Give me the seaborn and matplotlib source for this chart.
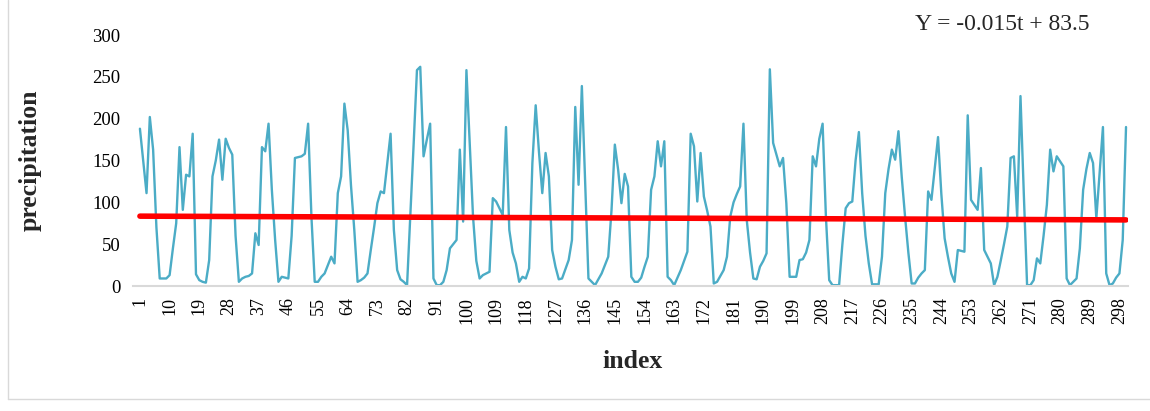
import matplotlib
matplotlib.use("Agg")
import matplotlib.pyplot as plt
import seaborn as sns
import pandas as pd
from matplotlib.lines import Line2D

# monthly precipitation series
index = list(range(1, 301))
precipitation = [
    188, 150, 111, 202, 163, 70, 9, 9, 9, 13, 45, 75,
    166, 91, 133, 131, 182, 14, 7, 5, 4, 31, 131, 150,
    175, 127, 176, 165, 157, 60, 5, 9, 11, 12, 15, 63,
    49, 166, 161, 194, 115, 55, 5, 11, 10, 9, 60, 153,
    154, 155, 158, 194, 83, 5, 5, 11, 15, 25, 35, 27,
    111, 131, 218, 186, 120, 67, 5, 7, 10, 15, 43, 70,
    99, 113, 111, 147, 182, 67, 19, 8, 5, 1, 85, 170,
    258, 262, 155, 175, 194, 9, 1, 1, 5, 19, 45, 50,
    55, 163, 77, 258, 170, 83, 30, 9, 13, 15, 17, 105,
    101, 93, 85, 190, 67, 40, 27, 5, 11, 9, 21, 147,
    216, 160, 111, 159, 131, 43, 23, 8, 9, 20, 31, 55,
    214, 121, 239, 123, 9, 5, 1, 8, 15, 25, 35, 91,
    169, 139, 99, 134, 119, 11, 5, 5, 10, 23, 35, 115,
    131, 173, 143, 173, 11, 7, 1, 10, 19, 30, 41, 182,
    167, 101, 159, 107, 90, 71, 3, 5, 12, 19, 35, 83,
    100, 110, 119, 194, 79, 40, 9, 8, 23, 30, 39, 259,
    171, 157, 143, 153, 99, 11, 11, 11, 31, 32, 40, 55,
    155, 143, 176, 194, 83, 7, 1, 1, 1, 50, 93, 99,
    101, 150, 184, 111, 60, 27, 2, 2, 2, 35, 111, 140,
    163, 151, 185, 130, 83, 40, 3, 3, 10, 15, 19, 113,
    103, 140, 178, 110, 57, 35, 15, 5, 43, 42, 41, 204,
    103, 97, 91, 141, 43, 35, 27, 1, 11, 30, 50, 71,
    153, 155, 83, 227, 111, 1, 1, 7, 33, 27, 60, 97,
    163, 137, 155, 149, 143, 9, 1, 5, 9, 45, 115, 140,
    159, 147, 81, 135, 190, 15, 1, 3, 10, 15, 55, 190,
]

# linear trend shown on the chart
trend_slope = -0.015
trend_intercept = 83.5
equation_label = "Y = -0.015t + 83.5"

x_ticks = list(range(1, 300, 9))
y_ticks = [0, 50, 100, 150, 200, 250, 300]

df = pd.DataFrame({"index": index, "precipitation": precipitation})
df["trend"] = trend_intercept + trend_slope * df["index"]

sns.set_style("white")
plt.rcParams["font.family"] = ["Liberation Serif", "DejaVu Serif"]

fig = plt.figure(figsize=(11.5, 4.11), dpi=100)
ax = fig.add_axes([133 / 1150, 1 - 286 / 411, 995 / 1150, 251 / 411])

sns.lineplot(data=df, x="index", y="precipitation", color="#4BACC6",
             linewidth=1.7, ax=ax)
sns.lineplot(data=df, x="index", y="trend", color="#FF0000",
             linewidth=4, ax=ax)

ax.set_xlim(-1.1, 300.6)
ax.set_ylim(0, 300)
ax.set_xticks(x_ticks)
ax.set_xticklabels([str(t) for t in x_ticks], rotation=90, fontsize=13)
ax.set_yticks(y_ticks)
ax.set_yticklabels([str(t) for t in y_ticks], fontsize=13.5)
ax.tick_params(axis="both", length=0, colors="black")
ax.tick_params(axis="x", pad=8)
ax.tick_params(axis="y", pad=9)
ax.set_xlabel("")
ax.set_ylabel("")
for side in ["top", "right", "left"]:
    ax.spines[side].set_visible(False)
ax.spines["bottom"].set_color("#d9d9d9")
ax.spines["bottom"].set_linewidth(1.5)

fig.text(30 / 1150, 1 - 160 / 411, "precipitation", rotation=90,
         ha="center", va="center", fontsize=18.5, fontweight="bold")
fig.text(633 / 1150, 1 - 361 / 411, "index", ha="center", va="center",
         fontsize=18.5, fontweight="bold")
fig.text(915 / 1150, 1 - 25 / 411, equation_label, ha="left", va="center",
         fontsize=17)

# light chart-area border (left and bottom edges)
fig.add_artist(Line2D([8 / 1150, 8 / 1150], [1.0, 1 - 399 / 411],
                      transform=fig.transFigure, color="#d9d9d9", lw=1))
fig.add_artist(Line2D([8 / 1150, 1.0], [1 - 399 / 411, 1 - 399 / 411],
                      transform=fig.transFigure, color="#d9d9d9", lw=1))

fig.savefig("out.png", dpi=100)
